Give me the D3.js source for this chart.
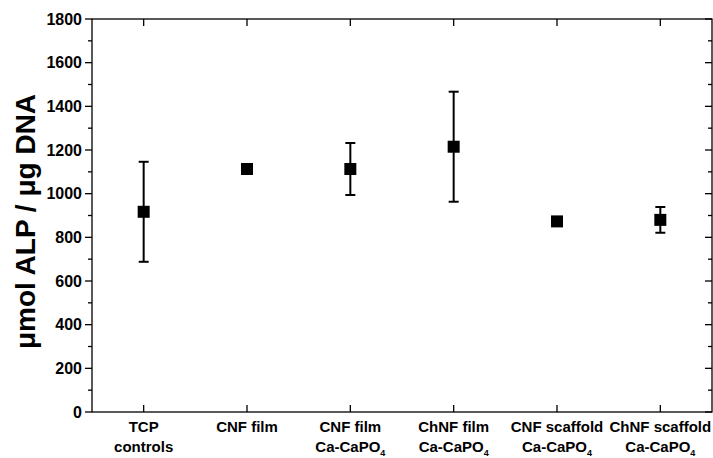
<!DOCTYPE html>
<meta charset="utf-8">
<head>
  <style>
  body { margin: 0; background: #fff; }
  svg text { font-family: "Liberation Sans", Arial, sans-serif; font-weight: bold; fill: #000; }
  .frame { fill: none; stroke: #000; stroke-width: 1.3px; }
  </style>
</head>
<body>
<svg width="713" height="458"></svg>
<script src="https://d3js.org/d3.v7.min.js"></script>
<script>

// data
var groups = [
  ["TCP", "controls"],
  ["CNF film"],
  ["CNF film", "Ca-CaPO|4"],
  ["ChNF film", "Ca-CaPO|4"],
  ["CNF scaffold", "Ca-CaPO|4"],
  ["ChNF scaffold", "Ca-CaPO|4"]
];
var means  = [917, 1113, 1113, 1215, 873, 880];
var errors = [229, 10, 119, 252, 12, 59];
var yTicks = [0, 200, 400, 600, 800, 1000, 1200, 1400, 1600, 1800];

var svg = d3.select("svg"),
    plotL = 92, plotR = 712, plotT = 19, plotB = 412;

var x = d3.scaleLinear().domain([0.5, 6.5]).range([plotL, plotR]);
var y = d3.scaleLinear().domain([0, 1800]).range([plotB, plotT]);

var minor = d3.range(100, 1800, 200);

// left axis, ticks outward
var gl = svg.append("g").attr("transform", "translate(" + plotL + ",0)");
gl.selectAll(".maj").data(yTicks).enter().append("line")
    .attr("x1", -7).attr("x2", 0)
    .attr("y1", function(d) { return y(d); }).attr("y2", function(d) { return y(d); })
    .attr("stroke", "#000").attr("stroke-width", 1.3);
gl.selectAll(".min").data(minor).enter().append("line")
    .attr("x1", -4).attr("x2", 0)
    .attr("y1", function(d) { return y(d); }).attr("y2", function(d) { return y(d); })
    .attr("stroke", "#000").attr("stroke-width", 1.3);
gl.selectAll("text").data(yTicks).enter().append("text")
    .attr("x", -10).attr("y", function(d) { return y(d) + 5.5; })
    .attr("text-anchor", "end").style("font-size", "16px")
    .text(function(d) { return d; });

// right axis, ticks inward
var gr = svg.append("g").attr("transform", "translate(" + plotR + ",0)");
gr.selectAll(".maj").data(yTicks).enter().append("line")
    .attr("x1", -7).attr("x2", 0)
    .attr("y1", function(d) { return y(d); }).attr("y2", function(d) { return y(d); })
    .attr("stroke", "#000").attr("stroke-width", 1.3);
gr.selectAll(".min").data(minor).enter().append("line")
    .attr("x1", -4).attr("x2", 0)
    .attr("y1", function(d) { return y(d); }).attr("y2", function(d) { return y(d); })
    .attr("stroke", "#000").attr("stroke-width", 1.3);

// top / bottom ticks, inward
var idx = d3.range(1, groups.length + 1);
svg.selectAll(".bt").data(idx).enter().append("line")
    .attr("x1", function(d) { return x(d); }).attr("x2", function(d) { return x(d); })
    .attr("y1", plotB - 7).attr("y2", plotB)
    .attr("stroke", "#000").attr("stroke-width", 1.3);
svg.selectAll(".tt").data(idx).enter().append("line")
    .attr("x1", function(d) { return x(d); }).attr("x2", function(d) { return x(d); })
    .attr("y1", plotT).attr("y2", plotT + 7)
    .attr("stroke", "#000").attr("stroke-width", 1.3);

svg.append("rect").attr("class", "frame")
    .attr("x", plotL).attr("y", plotT)
    .attr("width", plotR - plotL).attr("height", plotB - plotT);

// category labels
groups.forEach(function(lines, i) {
  var t = svg.append("text")
      .attr("x", x(i + 1)).attr("y", 432)
      .attr("text-anchor", "middle").style("font-size", "15px");
  lines.forEach(function(s, j) {
    var parts = s.split("|");
    t.append("tspan").attr("x", x(i + 1)).attr("y", 432 + j * 20).text(parts[0]);
    if (parts[1]) {
      t.append("tspan").attr("dy", 4).style("font-size", "9px").text(parts[1]);
    }
  });
});

// error bars
var eb = svg.append("g");
means.forEach(function(m, i) {
  var cx = x(i + 1), e = errors[i];
  eb.append("line").attr("x1", cx).attr("x2", cx)
      .attr("y1", y(m + e)).attr("y2", y(m - e))
      .attr("stroke", "#000").attr("stroke-width", 2);
  [m + e, m - e].forEach(function(v) {
    eb.append("line").attr("x1", cx - 5).attr("x2", cx + 5)
        .attr("y1", y(v)).attr("y2", y(v))
        .attr("stroke", "#000").attr("stroke-width", 2);
  });
});

// markers
svg.selectAll(".pt").data(means).enter().append("rect")
    .attr("x", function(d, i) { return x(i + 1) - 6; })
    .attr("y", function(d) { return y(d) - 6; })
    .attr("width", 12).attr("height", 12)
    .attr("fill", "#000");

// y title
svg.append("text")
    .attr("transform", "translate(35," + ((plotT + plotB) / 2 + 6) + ") rotate(-90)")
    .attr("text-anchor", "middle").style("font-size", "28px")
    .text("\u03bcmol ALP / \u03bcg DNA");

</script>
</body>
